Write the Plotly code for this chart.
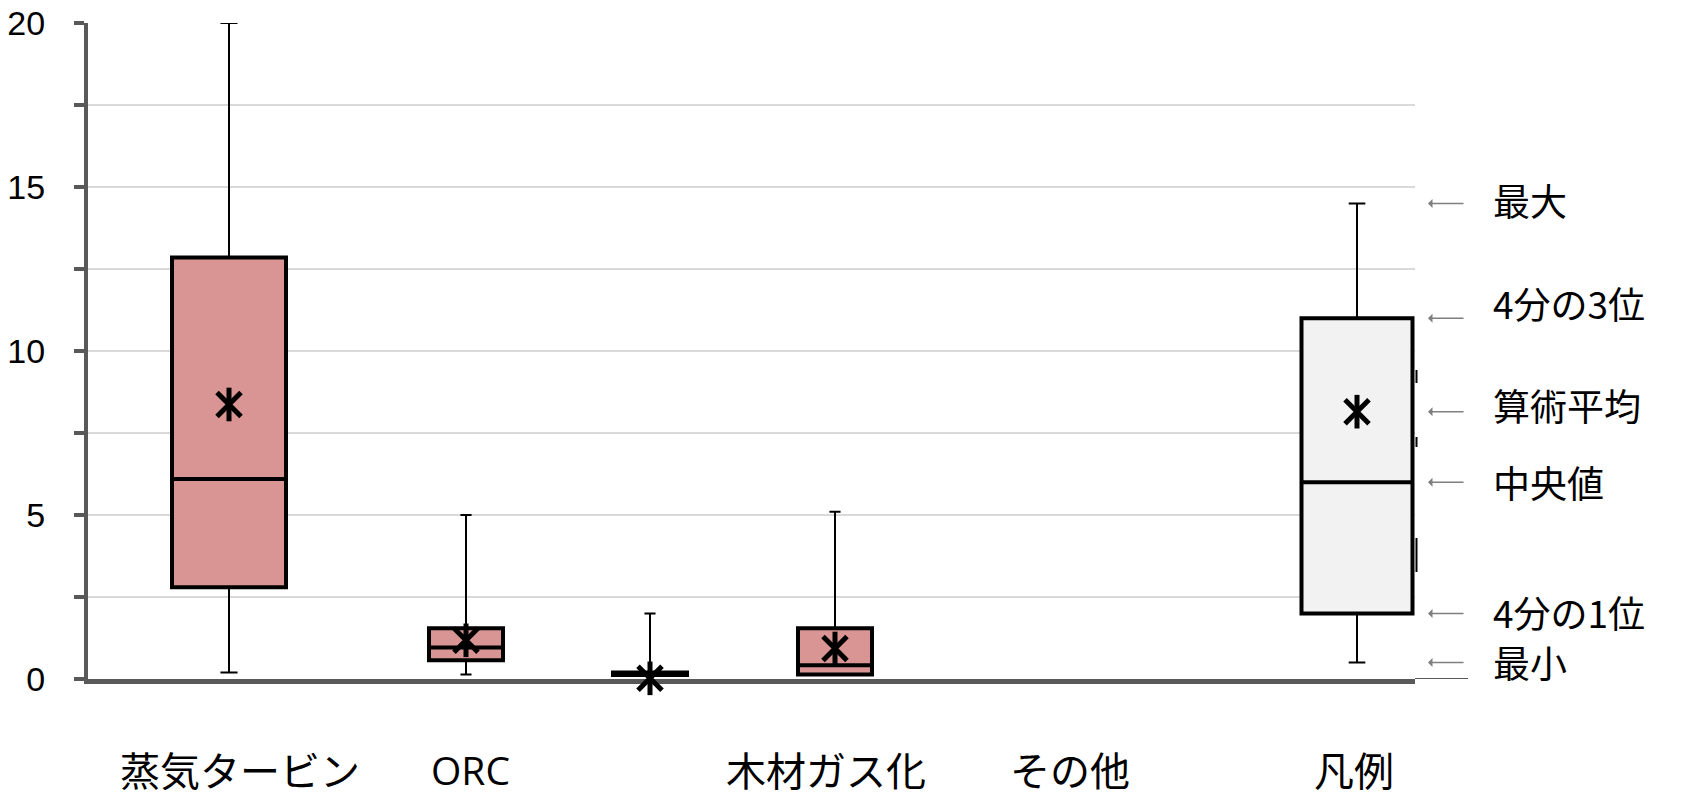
import plotly.graph_objects as go

# ---- data ----
categories = ["蒸気タービン", "ORC", "木材ガス化", "その他", "凡例"]
q_min = [0.2, 0.14, 0.12, 0.12, 0.5]
q1 = [2.8, 0.57, 0.12, 0.14, 2.0]
median = [6.1, 0.96, 0.16, 0.42, 6.0]
q3 = [12.85, 1.55, 0.2, 1.55, 11.0]
q_max = [20.0, 5.0, 2.0, 5.1, 14.5]
mean = [8.37, 1.18, 0.02, 0.93, 8.15]
legend_labels = ["最大", "4分の3位", "算術平均", "中央値", "4分の1位", "最小"]
legend_values = [14.5, 11.0, 8.15, 6.0, 2.0, 0.5]
y_ticks = [0, 5, 10, 15, 20]

# ---- layout helpers (pixel-based x axis) ----
W, H, T, B = 1686, 801, 23, 122
X0, X1 = 88, 1415
box_pos = [229, 466, 650, 835, 1357]
box_width = [114, 74, 74, 74, 111]
label_pos = [240, 470, 826, 1070, 1354]
label_size = [40, 39, 40, 40, 40]
label_font = ["Noto Sans CJK JP", "Open Sans", "Noto Sans CJK JP",
              "Noto Sans CJK JP", "Noto Sans CJK JP"]
fills = ["#d99594", "#d99594", "#d99594", "#d99594", "#f2f2f2"]
legend_label_y = [14.6, 11.46, 8.35, 6.01, 2.04, 0.52]


def px(xp):
    return (xp - X0) / (X1 - X0)


def py(ypix):
    return (H - B - ypix) / (H - T - B)


fig = go.Figure()

for i in range(len(categories)):
    # whiskers (thin)
    fig.add_trace(go.Box(
        x=[box_pos[i]], q1=[q1[i]], median=[median[i]], q3=[q3[i]],
        lowerfence=[q_min[i]], upperfence=[q_max[i]],
        width=box_width[i], whiskerwidth=0.15,
        line=dict(color="black", width=2), fillcolor="rgba(0,0,0,0)",
        showlegend=False, hoverinfo="skip"))
    # box (thick)
    fig.add_trace(go.Box(
        x=[box_pos[i]], q1=[q1[i]], median=[median[i]], q3=[q3[i]],
        lowerfence=[q1[i]], upperfence=[q3[i]],
        width=box_width[i], whiskerwidth=0,
        line=dict(color="black", width=4), fillcolor=fills[i],
        showlegend=False, hoverinfo="skip"))

for sym in ["x-thin-open", "line-ns-open"]:
    fig.add_trace(go.Scatter(
        x=box_pos, y=mean, mode="markers", cliponaxis=False,
        marker=dict(symbol=sym, size=24, color="black",
                    line=dict(color="black", width=5)),
        showlegend=False, hoverinfo="skip"))

annotations = []
for i, c in enumerate(categories):
    annotations.append(dict(
        x=px(label_pos[i]), xref="paper", y=py(769), yref="paper",
        text=c, showarrow=False, xanchor="center", yanchor="middle",
        font=dict(size=label_size[i], color="black", family=label_font[i])))

for lab, v, ly in zip(legend_labels, legend_values, legend_label_y):
    annotations.append(dict(
        x=px(1428), xref="paper", y=v, yref="y", text="",
        showarrow=True, ax=37, ay=0, arrowhead=1, arrowsize=1,
        arrowwidth=1.5, arrowcolor="#7f7f7f"))
    annotations.append(dict(
        x=px(1491), xref="paper", y=ly, yref="y", text=lab,
        showarrow=False, xanchor="left", yanchor="middle",
        font=dict(size=37, color="black", family="Noto Sans CJK JP")))

shapes = [
    dict(type="line", xref="paper", yref="y", x0=1, x1=px(1468), y0=0, y1=0,
         line=dict(color="#595959", width=2)),
]
for (a, b) in [(370, 383), (437, 447), (538, 572)]:
    shapes.append(dict(type="line", xref="paper", yref="paper",
                       x0=px(1416.5), x1=px(1416.5), y0=py(a), y1=py(b),
                       line=dict(color="black", width=2)))

fig.update_layout(
    width=W, height=H,
    margin=dict(l=X0, r=W - X1, t=T, b=B, autoexpand=False),
    plot_bgcolor="white", paper_bgcolor="white",
    boxmode="overlay",
    annotations=annotations, shapes=shapes,
    xaxis=dict(range=[X0, X1], showticklabels=False, showgrid=False,
               zeroline=False, showline=True, linecolor="#595959",
               linewidth=5, ticks="", layer="below traces", automargin=False),
    yaxis=dict(range=[0, 20], tickvals=y_ticks, ticktext=[str(t) for t in y_ticks],
               showgrid=True, gridcolor="#d9d9d9", gridwidth=2,
               zeroline=False, showline=True, linecolor="#595959", linewidth=4,
               ticks="outside", ticklen=10, tickwidth=4, tickcolor="#595959",
               ticklabelstandoff=22, layer="below traces", automargin=False,
               tickfont=dict(size=34, color="black", family="Liberation Sans"),
               minor=dict(tickvals=[2.5, 7.5, 12.5, 17.5], ticks="outside",
                          ticklen=10, tickwidth=4, tickcolor="#595959",
                          showgrid=True, gridcolor="#d9d9d9", gridwidth=2)),
)

fig.write_html(
    "out.html",
    config={"displayModeBar": False},
    post_script="document.body.style.margin='0';document.body.style.overflow='hidden';",
)
